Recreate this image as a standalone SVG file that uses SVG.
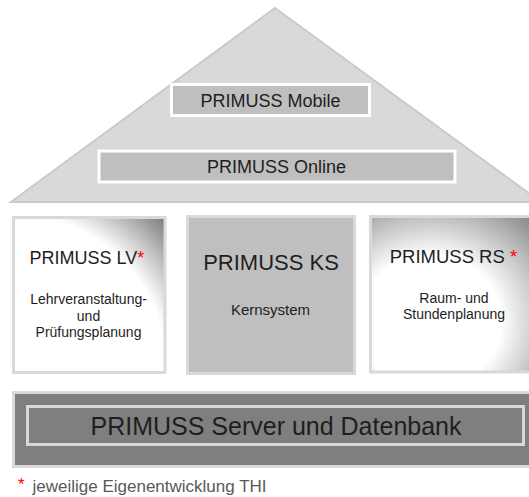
<svg xmlns="http://www.w3.org/2000/svg" width="529" height="497" viewBox="0 0 529 497">
  <style>
    text { font-family: "Liberation Sans", Arial, sans-serif; fill: #1e1e1e; }
    .mid { text-anchor: middle; }
    .star { fill: #ff0000; }
    .panel { stroke: #d9d9d9; stroke-width: 3; }
    .bar { fill: #bfbfbf; stroke: #ffffff; stroke-width: 3; }
  </style>
  <defs>
    <radialGradient id="gLV" cx="0" cy="1" r="1.414" fx="0" fy="1">
      <stop offset="0.72" stop-color="#ffffff"/>
      <stop offset="1" stop-color="#7a7a7a"/>
    </radialGradient>
    <radialGradient id="gRS" cx="0.36" cy="0.68" r="0.95" fx="0.36" fy="0.68">
      <stop offset="0.45" stop-color="#ffffff"/>
      <stop offset="1" stop-color="#7c7c7c"/>
    </radialGradient>
  </defs>

  <g id="roof">
    <polygon points="275,8 541,202 11,202" fill="#d9d9d9" stroke="#cacaca" stroke-width="2"/>
  </g>

  <g id="mobile">
    <rect class="bar" x="171.5" y="84.5" width="198" height="31"/>
    <text class="mid" x="270.5" y="106.5" font-size="18">PRIMUSS Mobile</text>
  </g>

  <g id="online">
    <rect class="bar" x="99" y="151" width="356" height="31"/>
    <text class="mid" x="276.5" y="173" font-size="18">PRIMUSS Online</text>
  </g>

  <g id="lv">
    <rect class="panel" x="13.5" y="217.5" width="151.5" height="155" fill="url(#gLV)"/>
    <text x="29.5" y="263.5" font-size="18">PRIMUSS LV<tspan class="star">*</tspan></text>
    <text class="mid" x="88.5" y="304" font-size="14">Lehrveranstaltung-</text>
    <text class="mid" x="88.5" y="320.5" font-size="14">und</text>
    <text class="mid" x="88.5" y="337" font-size="14">Prüfungsplanung</text>
  </g>

  <g id="ks">
    <rect class="panel" x="187.5" y="216.5" width="167" height="157" fill="#bfbfbf"/>
    <text class="mid" x="271" y="269.5" font-size="22">PRIMUSS KS</text>
    <text class="mid" x="270.5" y="315" font-size="15">Kernsystem</text>
  </g>

  <g id="rs">
    <rect class="panel" x="370.5" y="216.5" width="166" height="155.5" fill="url(#gRS)"/>
    <text x="389.7" y="262.7" font-size="18.5">PRIMUSS RS <tspan class="star">*</tspan></text>
    <text class="mid" x="454" y="302.7" font-size="14">Raum- und</text>
    <text class="mid" x="454" y="318.5" font-size="14">Stundenplanung</text>
  </g>

  <g id="server">
    <rect class="panel" x="13.5" y="392.5" width="525" height="74" fill="#7f7f7f"/>
    <rect x="27.5" y="406.5" width="496" height="38" fill="#7f7f7f" stroke="#d9d9d9" stroke-width="3"/>
    <text class="mid" x="276" y="435" font-size="25" fill="#111111">PRIMUSS Server und Datenbank</text>
  </g>

  <g id="connectors"/>

  <g id="footnote">
    <text x="18" y="490" font-size="17" class="star">*</text>
    <text x="32.5" y="492" font-size="17" style="fill:#595959">jeweilige Eigenentwicklung THI</text>
  </g>
</svg>
